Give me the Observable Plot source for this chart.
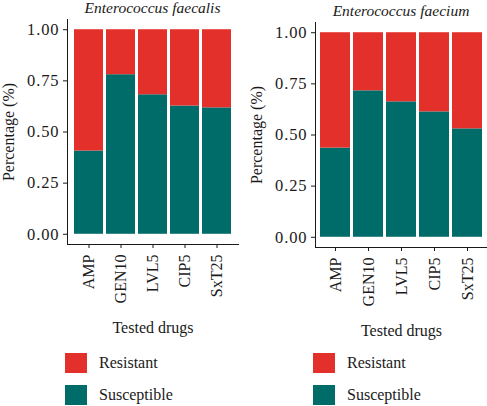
<!DOCTYPE html>
<html>
<head>
<meta charset="utf-8">
<script src="https://cdn.jsdelivr.net/npm/d3@7"></script>
<script src="https://cdn.jsdelivr.net/npm/@observablehq/plot@0.6"></script>
<style>
  html, body { margin: 0; padding: 0; background: #fff; }
  #wrap { position: relative; width: 487px; height: 406px; overflow: hidden; font-family: "Liberation Serif", "DejaVu Serif", serif; color: #1a1a1a; }
  .panel { position: absolute; }
  .panel g[aria-label="y-axis tick label"] text { letter-spacing: 0.9px; font-size: 16.5px; }
  .title { position: absolute; text-align: center; font-style: italic; font-size: 15.5px; line-height: 16px; white-space: nowrap; }
  .leg { position: absolute; font-size: 16px; display: flex; align-items: center; }
  .sw { width: 22px; height: 20px; margin-right: 12px; }
</style>
</head>
<body>
<div id="wrap"></div>
<script>
const drugs = ["AMP", "GEN10", "LVL5", "CIP5", "SxT25"];
const statuses = ["Resistant", "Susceptible"];
const colors = ["#E4302A", "#006C69"];
const yTicks = [0, 0.25, 0.5, 0.75, 1];

const faecalisTitle = "Enterococcus faecalis";
const faecalisSusceptible = [0.407, 0.780, 0.682, 0.627, 0.618];
const faecalisResistant = [0.593, 0.220, 0.318, 0.373, 0.382];

const faeciumTitle = "Enterococcus faecium";
const faeciumSusceptible = [0.436, 0.716, 0.662, 0.613, 0.530];
const faeciumResistant = [0.564, 0.284, 0.338, 0.387, 0.470];

function rows(sus, res) {
  const out = [];
  drugs.forEach((d, i) => {
    out.push({drug: d, status: "Susceptible", value: sus[i]});
    out.push({drug: d, status: "Resistant", value: res[i]});
  });
  return out;
}

function panel(data, width, marginRight) {
  return Plot.plot({
    width: width,
    height: 340,
    marginTop: 19,
    marginBottom: 96,
    marginLeft: 67,
    marginRight: marginRight,
    style: {fontFamily: "'Liberation Serif', serif", fontSize: "16px", color: "#1a1a1a", background: "#fff", overflow: "visible"},
    x: {domain: drugs, paddingInner: 0.1, paddingOuter: 0.15, align: 0.5,
        tickRotate: -90, tickSize: 4, tickPadding: 6,
        label: "Tested drugs", labelAnchor: "center", labelOffset: 88},
    y: {domain: [-0.05, 1.05], ticks: yTicks, tickFormat: d3.format(".2f"), tickSize: 4, tickPadding: 4,
        label: "Percentage (%)", labelAnchor: "center", labelOffset: 65, labelArrow: "none"},
    color: {domain: statuses, range: colors},
    marks: [
      Plot.barY(data, {x: "drug", y: "value", fill: "status", order: ["Susceptible", "Resistant"]}),
      Plot.frame({anchor: "left", stroke: "#1a1a1a"}),
      Plot.frame({anchor: "bottom", stroke: "#1a1a1a"})
    ]
  });
}

const wrap = document.getElementById("wrap");

function addPanel(left, top, width, marginRight, title, sus, res) {
  const div = document.createElement("div");
  div.className = "panel";
  div.style.left = left + "px";
  div.style.top = top + "px";
  div.appendChild(panel(rows(sus, res), width, marginRight));
  wrap.appendChild(div);
  const t = document.createElement("div");
  t.className = "title";
  t.style.left = (left + 67) + "px";
  t.style.width = (width - 67 - marginRight) + "px";
  t.style.top = (top + 0) + "px";
  t.textContent = title;
  wrap.appendChild(t);
  statuses.forEach((s, i) => {
    const l = document.createElement("div");
    l.className = "leg";
    l.style.left = (left + 65) + "px";
    l.style.top = (353 + i * 32) + "px";
    const sw = document.createElement("div");
    sw.className = "sw";
    sw.style.background = colors[i];
    l.appendChild(sw);
    const tx = document.createElement("span");
    tx.textContent = s;
    l.appendChild(tx);
    wrap.appendChild(l);
  });
}

addPanel(0, 0, 243, 5, faecalisTitle, faecalisSusceptible, faecalisResistant);
addPanel(248, 3, 239, 0, faeciumTitle, faeciumSusceptible, faeciumResistant);
</script>
</body>
</html>
